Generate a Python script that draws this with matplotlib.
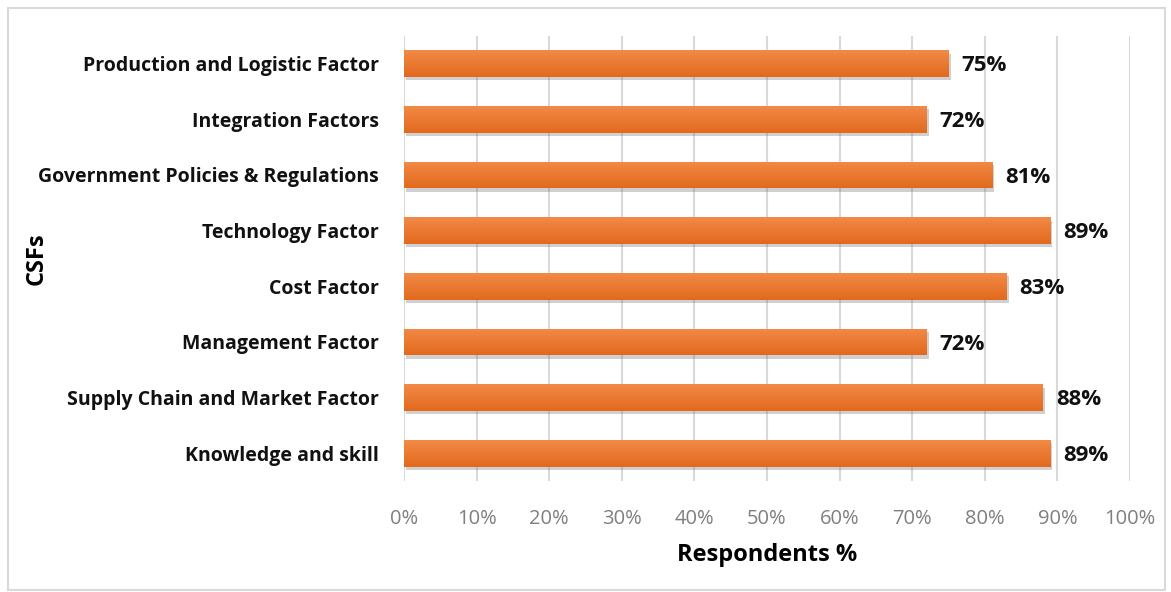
import numpy as np
import matplotlib.pyplot as plt
import matplotlib.patheffects as pe
from matplotlib.patches import Rectangle
from matplotlib.colors import LinearSegmentedColormap

# categories top to bottom as in the picture
factors = ['Production and Logistic Factor', 'Integration Factors',
           'Government Policies & Regulations', 'Technology Factor',
           'Cost Factor', 'Management Factor',
           'Supply Chain and Market Factor', 'Knowledge and skill']
respondents = [75, 72, 81, 89, 83, 72, 88, 89]
xticks = [0, 10, 20, 30, 40, 50, 60, 70, 80, 90, 100]

plt.rcParams['font.family'] = ['Open Sans', 'DejaVu Sans']

fig = plt.figure(figsize=(11.71, 5.92), dpi=100)
ax = fig.add_axes([0.345, 0.1875, 0.62, 0.752])

# light frame round the whole chart
fig.patches.append(Rectangle((0.007, 0.004), 0.988, 0.982, transform=fig.transFigure,
                             fill=False, edgecolor='#d9d9d9', linewidth=1.5))

ypos = list(range(len(factors)))[::-1]
bars = ax.barh(ypos, respondents, height=0.48, color='#EA7A30', zorder=3)
for b in bars:
    b.set_path_effects([pe.SimplePatchShadow(offset=(1.5, -2.5), shadow_rgbFace='#666666', alpha=0.3),
                        pe.Normal()])

# vertical gradient on each bar, light on top, darker below
grad = LinearSegmentedColormap.from_list('bar', ['#E2691D', '#F28A47'])
for b in bars:
    x0, y0 = b.get_x(), b.get_y()
    im = ax.imshow(np.linspace(0, 1, 50).reshape(-1, 1), cmap=grad, aspect='auto',
                   origin='lower', extent=[x0, x0 + b.get_width(), y0, y0 + b.get_height()],
                   zorder=4)
    im.set_clip_path(b)

for y, v in zip(ypos, respondents):
    ax.text(v + 1.8, y - 0.04, '%d%%' % v, va='center', ha='left', fontsize=16,
            fontweight='bold', color='#111111', zorder=5)

ax.set_xlim(0, 100)
ax.set_ylim(-0.5, len(factors) - 0.5)
ax.set_xticks(xticks)
ax.set_xticklabels(['%d%%' % t for t in xticks], color='#7f7f7f', fontsize=14.5)
ax.set_yticks(ypos)
ax.set_yticklabels(factors, fontsize=14, fontweight='bold', color='#111111')
ax.tick_params(axis='both', length=0)
ax.tick_params(axis='x', pad=20)
ax.tick_params(axis='y', pad=18)
ax.grid(axis='x', color='#d9d9d9', linewidth=1.5, zorder=0)
for s in ax.spines.values():
    s.set_visible(False)

ax.set_xlabel('Respondents %', fontsize=17, fontweight='bold', labelpad=10)
ax.set_ylabel('CSFs', fontsize=17, fontweight='bold')
ax.yaxis.set_label_coords(-0.49, 0.5)

fig.savefig('out.png', dpi=100)
